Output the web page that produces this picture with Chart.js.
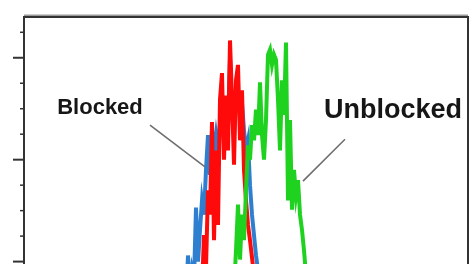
<!DOCTYPE html>
<html>
<head>
<meta charset="utf-8">
<script src="https://cdn.jsdelivr.net/npm/chart.js@4.4.1/dist/chart.umd.min.js"></script>
<style>
  html, body { margin: 0; padding: 0; background: #fff; overflow: hidden; }
  #wrap { width: 472px; height: 380px; }
</style>
</head>
<body>
<div id="wrap"><canvas id="chart" width="472" height="380"></canvas></div>
<script>
/* =======================
   1) Data (channel -> counts)
======================= */
const blueStart = 80;
const blueCounts = [33, 62, 106, 72, 92, 82, 153, 100, 131, 160, 146, 190, 224, 185, 229, 209, 225, 210, 235, 255,
  215, 250, 235, 300, 245, 225, 262, 260, 250, 255, 229, 209, 219, 175, 146, 126, 106, 92, 62, 33];

const redStart = 84;
const redCounts = [33, 43, 52, 64, 77, 72, 126, 94, 170, 146, 237, 121, 209, 136, 259, 285, 200, 263, 209, 317,
  259, 195, 278, 293, 219, 268, 190, 160, 136, 121, 104, 87, 62, 43, 23];

const greenStart = 104;
const greenCounts = [43, 72, 111, 156, 102, 146, 121, 170, 214, 200, 234, 219, 249, 224, 276, 224, 200, 239, 303, 308,
  293, 303, 298, 259, 209, 278, 244, 315, 160, 239, 151, 190, 165, 180, 146, 131, 111, 87, 62, 33];

const majorTicks = [100, 200, 300];
const minorTicks = [25, 50, 75, 125, 150, 175, 225, 250, 275, 325];

// text labels with leader lines, in data units
const labels = [
  { text: "Blocked", font: "bold 22px 'Liberation Sans', Arial, sans-serif", x: 38, y: 245, from: [63, 234], to: [90.5, 193] },
  { text: "Unblocked", font: "bold 27px 'Liberation Sans', Arial, sans-serif", x: 184.5, y: 241, from: [160.5, 220], to: [139.5, 179] }
];

const toPoints = (start, arr) => arr.map((v, i) => ({ x: start + i, y: v }));

/* =======================
   2) Frame, ticks and labels
======================= */
const framePlugin = {
  id: "frame",
  afterDraw(chart) {
    const { ctx, chartArea: a, scales } = chart;
    const ys = scales.y, xs = scales.x;
    ctx.save();

    // light line just above top border
    ctx.strokeStyle = "#9a9a9a";
    ctx.lineWidth = 1.5;
    ctx.beginPath();
    ctx.moveTo(a.left, a.top - 1.8);
    ctx.lineTo(a.right, a.top - 1.8);
    ctx.stroke();

    ctx.strokeStyle = "#333";
    ctx.lineWidth = 2;
    ctx.beginPath();
    ctx.moveTo(a.left, a.bottom);
    ctx.lineTo(a.left, a.top);
    ctx.lineTo(a.right, a.top);
    ctx.lineTo(a.right, a.bottom);
    ctx.stroke();

    majorTicks.forEach(v => {
      const py = ys.getPixelForValue(v);
      ctx.beginPath();
      ctx.moveTo(a.left - 11, py);
      ctx.lineTo(a.left, py);
      ctx.stroke();
    });
    ctx.lineWidth = 1.5;
    minorTicks.forEach(v => {
      const py = ys.getPixelForValue(v);
      ctx.beginPath();
      ctx.moveTo(a.left - 4, py);
      ctx.lineTo(a.left, py);
      ctx.stroke();
    });

    labels.forEach(l => {
      ctx.strokeStyle = "#6e6e6e";
      ctx.lineWidth = 1.6;
      ctx.beginPath();
      ctx.moveTo(xs.getPixelForValue(l.from[0]), ys.getPixelForValue(l.from[1]));
      ctx.lineTo(xs.getPixelForValue(l.to[0]), ys.getPixelForValue(l.to[1]));
      ctx.stroke();

      ctx.fillStyle = "#161616";
      ctx.font = l.font;
      ctx.textAlign = "center";
      ctx.textBaseline = "alphabetic";
      ctx.fillText(l.text, xs.getPixelForValue(l.x), ys.getPixelForValue(l.y));
    });
    ctx.restore();
  }
};

/* =======================
   3) Chart
======================= */
const lineStyle = { borderWidth: 4, pointRadius: 0, tension: 0, fill: false, borderJoinStyle: "miter" };

new Chart(document.getElementById("chart"), {
  type: "line",
  data: {
    datasets: [
      { label: "Unblocked", data: toPoints(greenStart, greenCounts), borderColor: "#1fd21f", ...lineStyle },
      { label: "Blocked", data: toPoints(redStart, redCounts), borderColor: "#ff0a0a", ...lineStyle },
      { label: "Blocked (ref)", data: toPoints(blueStart, blueCounts), borderColor: "#2f7fd0", ...lineStyle }
    ]
  },
  options: {
    responsive: false,
    animation: false,
    clip: true,
    layout: { padding: { left: 24, top: 17, right: 4, bottom: 16.5 } },
    plugins: { legend: { display: false }, tooltip: { enabled: false } },
    scales: {
      x: { type: "linear", min: 0, max: 222, display: false },
      y: { type: "linear", min: 0, max: 340, display: false }
    }
  },
  plugins: [framePlugin]
});
</script>
</body>
</html>
